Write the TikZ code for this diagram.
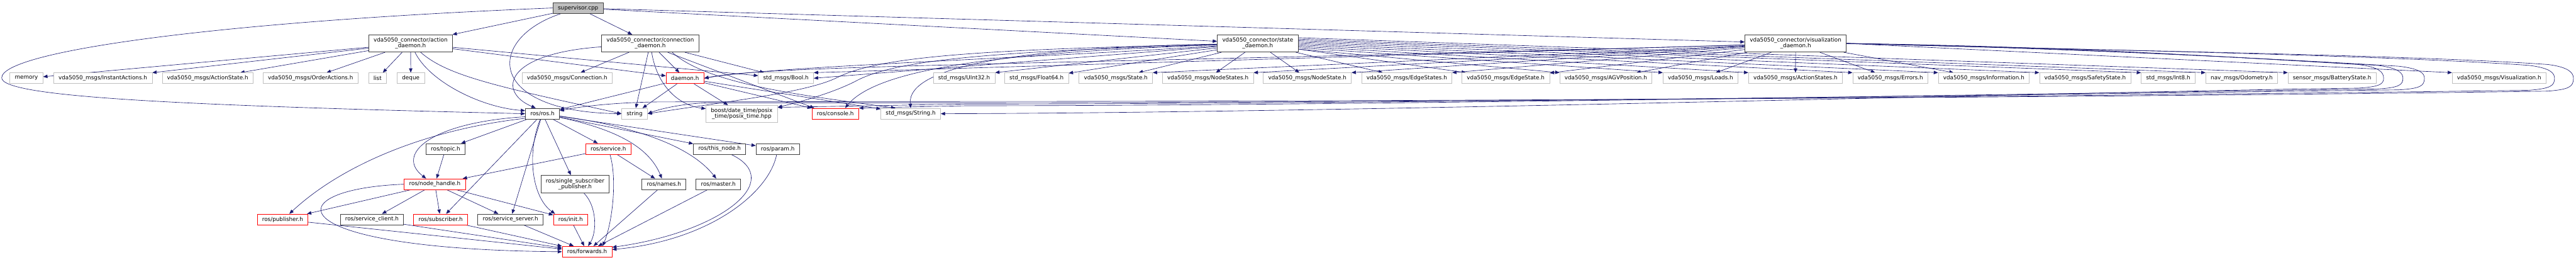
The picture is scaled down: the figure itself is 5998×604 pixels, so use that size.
\documentclass[tikz,border=0pt]{standalone}
\usepackage{fontspec}
\setmainfont{DejaVu Sans}
\usetikzlibrary{arrows.meta,backgrounds}
\definecolor{edgeblue}{RGB}{25,25,112}
\definecolor{extgray}{RGB}{191,191,191}
\definecolor{docgray}{RGB}{64,64,64}
\definecolor{rootgray}{RGB}{191,191,191}
\definecolor{truncred}{RGB}{255,0,0}

\begin{document}
\begin{tikzpicture}[x=0.75pt,y=-0.75pt,every node/.style={font=\fontsize{9.7}{10.1}\selectfont,align=center,inner xsep=8.6pt,inner ysep=1pt,minimum height=18.75pt,fill=white},
  extbox/.style={draw=extgray,line width=0.75pt},
  docbox/.style={draw=docgray,line width=1pt},
  redbox/.style={draw=truncred,line width=1pt},
  rootbox/.style={draw=docgray,fill=rootgray,line width=1pt},
  inc/.style={edgeblue,line width=0.7pt,-{Triangle[length=7.5pt,width=6pt]}}]
\useasboundingbox (0,0) rectangle (5998,604);
\node[rootbox] (sup) at (1346,18.5) {supervisor.cpp};
\node[docbox,minimum height=30pt] (actd) at (956,101) {vda5050\_connector/action\\\_daemon.h};
\node[docbox,minimum height=30pt] (connd) at (1514,101) {vda5050\_connector/connection\\\_daemon.h};
\node[docbox,minimum height=30pt] (stated) at (2928.5,101) {vda5050\_connector/state\\\_daemon.h};
\node[docbox,minimum height=30pt] (visd) at (4181,101) {vda5050\_connector/visualization\\\_daemon.h};
\node[extbox] (mem) at (61.5,182) {memory};
\node[extbox] (instact) at (239.5,182) {vda5050\_msgs/InstantActions.h};
\node[extbox] (actstate) at (483.5,182) {vda5050\_msgs/ActionState.h};
\node[extbox] (ordact) at (723,182) {vda5050\_msgs/OrderActions.h};
\node[extbox] (lst) at (879,182) {list};
\node[extbox] (dq) at (956.5,182) {deque};
\node[extbox] (conn) at (1320.5,182) {vda5050\_msgs/Connection.h};
\node[redbox] (dmn) at (1595,182) {daemon.h};
\node[extbox] (boolmsg) at (1830,182) {std\_msgs/Bool.h};
\node[extbox] (uint) at (2245,182) {std\_msgs/UInt32.h};
\node[extbox] (flt) at (2413.5,182) {std\_msgs/Float64.h};
\node[extbox] (statemsg) at (2598,182) {vda5050\_msgs/State.h};
\node[extbox] (nstates) at (2812.5,182) {vda5050\_msgs/NodeStates.h};
\node[extbox] (nstate) at (3044,182) {vda5050\_msgs/NodeState.h};
\node[extbox] (estates) at (3275.5,182) {vda5050\_msgs/EdgeStates.h};
\node[extbox] (estate) at (3506,182) {vda5050\_msgs/EdgeState.h};
\node[extbox] (agv) at (3739,182) {vda5050\_msgs/AGVPosition.h};
\node[extbox] (loads) at (3959.5,182) {vda5050\_msgs/Loads.h};
\node[extbox] (astates) at (4180.5,182) {vda5050\_msgs/ActionStates.h};
\node[extbox] (errs) at (4401.5,182) {vda5050\_msgs/Errors.h};
\node[extbox] (info) at (4619,182) {vda5050\_msgs/Information.h};
\node[extbox] (safety) at (4855,182) {vda5050\_msgs/SafetyState.h};
\node[extbox] (int8) at (5048.5,182) {std\_msgs/Int8.h};
\node[extbox] (odom) at (5219.5,182) {nav\_msgs/Odometry.h};
\node[extbox] (batt) at (5430,182) {sensor\_msgs/BatteryState.h};
\node[extbox] (vismsg) at (5819,182) {vda5050\_msgs/Visualization.h};
\node[docbox] (ros) at (1263,264.5) {ros/ros.h};
\node[extbox] (str) at (1477.5,264.5) {string};
\node[extbox,minimum height=29.25pt] (boost) at (1727,264.5) {boost/date\_time/posix\\\_time/posix\_time.hpp};
\node[redbox] (console) at (1945,264.5) {ros/console.h};
\node[extbox] (strmsg) at (2120.5,264.5) {std\_msgs/String.h};
\node[docbox] (topic) at (1037.5,346.5) {ros/topic.h};
\node[redbox] (service) at (1416.5,346.5) {ros/service.h};
\node[docbox] (thisnode) at (1675.5,346.5) {ros/this\_node.h};
\node[docbox] (param) at (1811,346.5) {ros/param.h};
\node[redbox] (nh) at (1012.5,428.5) {ros/node\_handle.h};
\node[docbox,minimum height=30.75pt] (ssp) at (1339,428.5) {ros/single\_subscriber\\\_publisher.h};
\node[docbox] (names) at (1546,428.5) {ros/names.h};
\node[docbox] (master) at (1672.5,428.5) {ros/master.h};
\node[redbox] (pub) at (658,510.5) {ros/publisher.h};
\node[docbox] (sclient) at (866,510.5) {ros/service\_client.h};
\node[redbox] (sub) at (1026,510.5) {ros/subscriber.h};
\node[docbox] (sserver) at (1188.5,510.5) {ros/service\_server.h};
\node[redbox] (init) at (1328.5,510.5) {ros/init.h};
\node[redbox] (fwd) at (1367,585.5) {ros/forwards.h};
\coordinate (farleft) at (4,181);
\begin{scope}[on background layer]
\draw[inc] (sup)--(actd); \draw[inc] (sup)--(connd); \draw[inc] (sup)--(stated); \draw[inc] (sup)--(visd);
\draw[inc] (sup.west) .. controls (500,50) and (4,120) .. (farleft) .. controls (4,225) and (400,245) .. (ros.west);
\draw[inc] (sup) .. controls (1130,90) and (1130,260) .. (str.west);
\draw[inc] (actd)--(mem); \draw[inc] (actd)--(instact); \draw[inc] (actd)--(actstate); \draw[inc] (actd)--(ordact); \draw[inc] (actd)--(lst); \draw[inc] (actd)--(dq);
\draw[inc] (actd)--(dmn); \draw[inc] (actd)--(boolmsg);
\draw[inc] (actd) .. controls (1000,190) and (1120,250) .. (ros.170);
\draw[inc] (actd) .. controls (1040,175) and (1150,200) .. (str.west);
\draw[inc] (connd)--(conn); \draw[inc] (connd)--(str); \draw[inc] (connd)--(dmn); \draw[inc] (connd)--(boolmsg);
\draw[inc] (connd) .. controls (1170,125) and (1160,215) .. (ros.140);
\draw[inc] (connd) .. controls (1530,200) and (1580,245) .. (boost.172);
\draw[inc] (connd.-27)--(console.165);
\draw[inc] (connd.-22) .. controls (1650,200) and (1900,225) .. (strmsg.160);
\draw[inc] (dmn)--(ros); \draw[inc] (dmn)--(str); \draw[inc] (dmn)--(boost); \draw[inc] (dmn)--(console); \draw[inc] (dmn)--(strmsg);
\draw[inc] (stated)--(nstates); \draw[inc] (stated)--(nstate); \draw[inc] (stated)--(estates); \draw[inc] (stated)--(estate);
\draw[inc] (stated.-8)--(agv.north west); \draw[inc] (stated.-6)--(loads.north west); \draw[inc] (stated.-4)--(astates.north west);
\draw[inc] (stated.-2)--(errs.north west); \draw[inc] (stated.east)--(info.north west); \draw[inc] (stated.2)--(safety.north west);
\draw[inc] (stated.4)--(int8.north west); \draw[inc] (stated.6)--(odom.north west); \draw[inc] (stated.8)--(batt.north west);
\draw[inc] (stated)--(statemsg); \draw[inc] (stated)--(uint.north east); \draw[inc] (stated)--(flt); \draw[inc] (stated)--(boolmsg.east);
\draw[inc] (stated) .. controls (2300,140) and (1800,155) .. (dmn.east);
\draw[inc] (stated) .. controls (2300,115) and (2050,130) .. (1950,180) .. controls (1880,215) and (1700,235) .. (str.east);
\draw[inc] (stated) .. controls (2300,120) and (2080,140) .. (1990,190) .. controls (1930,220) and (1850,240) .. (boost.10);
\draw[inc] (stated) .. controls (2400,120) and (2050,150) .. (console.30);
\draw[inc] (stated) .. controls (2400,110) and (2110,150) .. (strmsg.north);
\draw[inc] (visd)--(loads); \draw[inc] (visd)--(astates); \draw[inc] (visd)--(errs); \draw[inc] (visd)--(info);
\draw[inc] (visd)--(agv); \draw[inc] (visd)--(estate); \draw[inc] (visd)--(estates.north east); \draw[inc] (visd)--(nstate.north east);
\draw[inc] (visd)--(nstates.north east); \draw[inc] (visd)--(statemsg.north east); \draw[inc] (visd)--(boolmsg.north east);
\draw[inc] (visd) .. controls (2500,150) and (1800,150) .. (dmn.east);
\draw[inc] (visd.east)--(vismsg.north west);
\draw[inc] (visd.east) .. controls (4800,108) and (5150,130) .. (5490,150) .. controls (5540,156) and (5550,168) .. (5550,182) .. controls (5550,196) and (5540,202) .. (5490,205) .. controls (4900,212) and (3200,262) .. (strmsg.east);
\draw[inc] (visd.east) .. controls (4800,110) and (5195,132) .. (5535,152) .. controls (5585,158) and (5595,170) .. (5595,182) .. controls (5595,198) and (5585,204) .. (5535,207) .. controls (4900,215) and (3200,246) .. (2250,246) -- (console.north east);
\draw[inc] (visd.east) .. controls (4800,112) and (5245,134) .. (5585,154) .. controls (5635,160) and (5645,170) .. (5645,182) .. controls (5645,200) and (5635,206) .. (5585,209) .. controls (4900,218) and (3200,242) .. (2250,242) -- (boost.10);
\draw[inc] (visd.east) .. controls (4800,114) and (5548,128) .. (5888,152) .. controls (5938,158) and (5948,170) .. (5948,182) .. controls (5948,200) and (5938,206) .. (5888,210) .. controls (5000,222) and (3200,239) .. (2250,239) -- (1660,239) .. controls (1600,239) and (1540,252) .. (str.east);
\draw[inc] (visd.east) .. controls (4800,116) and (5592,126) .. (5932,150) .. controls (5982,156) and (5992,170) .. (5992,182) .. controls (5992,202) and (5982,208) .. (5932,212) .. controls (5000,226) and (3200,236) .. (2250,236) -- (1540,237) .. controls (1420,238) and (1340,250) .. (ros.10);
\draw[inc] (ros.190) .. controls (1000,285) and (920,360) .. (nh.147);
\draw[inc] (ros.195) .. controls (1000,300) and (800,380) .. (pub.40);
\draw[inc] (ros)--(topic); \draw[inc] (ros)--(sub); \draw[inc] (ros)--(sserver); \draw[inc] (ros)--(ssp);
\draw[inc] (ros)--(service); \draw[inc] (ros)--(thisnode); \draw[inc] (ros)--(param);
\draw[inc] (ros) .. controls (1225,360) and (1240,460) .. (init.160);
\draw[inc] (ros) .. controls (1430,300) and (1510,340) .. (names.110);
\draw[inc] (ros) .. controls (1450,290) and (1600,330) .. (master.110);
\draw[inc] (topic)--(nh); \draw[inc] (service)--(nh); \draw[inc] (service)--(names);
\draw[inc] (service) .. controls (1438,420) and (1425,520) .. (fwd.20);
\draw[inc] (nh)--(pub); \draw[inc] (nh)--(sclient); \draw[inc] (nh)--(sub); \draw[inc] (nh)--(sserver); \draw[inc] (nh)--(init);
\draw[inc] (nh.west) .. controls (640,440) and (640,580) .. (fwd.west);
\draw[inc] (ssp) .. controls (1390,480) and (1390,540) .. (fwd.80);
\draw[inc] (thisnode) .. controls (1830,420) and (1680,540) .. (fwd.10);
\draw[inc] (param) .. controls (1790,450) and (1650,560) .. (fwd.5);
\draw[inc] (names)--(fwd); \draw[inc] (master)--(fwd); \draw[inc] (pub)--(fwd); \draw[inc] (sclient)--(fwd);
\draw[inc] (sub)--(fwd); \draw[inc] (sserver)--(fwd); \draw[inc] (init)--(fwd);
\end{scope}
\end{tikzpicture}
\end{document}
